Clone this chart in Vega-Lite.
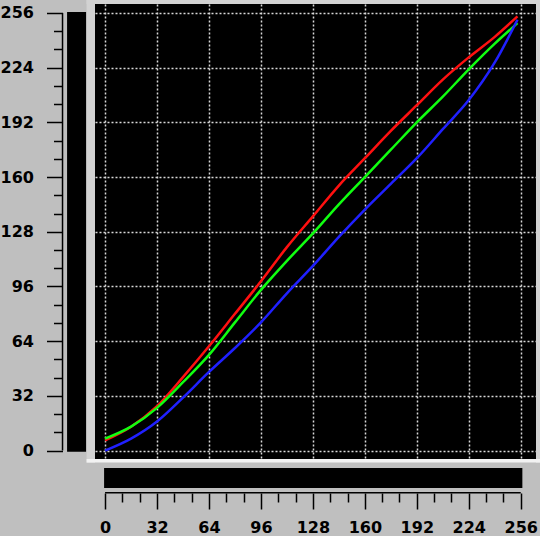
{
  "$schema": "https://vega.github.io/schema/vega-lite/v6.json",
  "width": 441,
  "height": 455,
  "autosize": {"type": "none"},
  "padding": {"left": 95, "top": 4, "right": 4, "bottom": 77},
  "background": "#bfbfbf",
  "config": {"view": {"fill": "black", "stroke": null}, "font": "DejaVu Sans"},
  "datasets": {
    "curves": [
      {"x": 0, "y": 6, "c": "red"}, {"x": 16, "y": 14, "c": "red"}, {"x": 32, "y": 26, "c": "red"}, {"x": 48, "y": 43, "c": "red"},
      {"x": 64, "y": 61, "c": "red"}, {"x": 80, "y": 80, "c": "red"}, {"x": 96, "y": 99, "c": "red"}, {"x": 112, "y": 119, "c": "red"},
      {"x": 128, "y": 137, "c": "red"}, {"x": 144, "y": 155, "c": "red"}, {"x": 160, "y": 171, "c": "red"}, {"x": 176, "y": 187, "c": "red"},
      {"x": 192, "y": 202, "c": "red"}, {"x": 208, "y": 217, "c": "red"}, {"x": 224, "y": 230, "c": "red"}, {"x": 240, "y": 242, "c": "red"},
      {"x": 254, "y": 254, "c": "red"},
      {"x": 0, "y": 7, "c": "green"}, {"x": 16, "y": 14, "c": "green"}, {"x": 32, "y": 25, "c": "green"}, {"x": 48, "y": 40, "c": "green"},
      {"x": 64, "y": 56, "c": "green"}, {"x": 80, "y": 75, "c": "green"}, {"x": 96, "y": 94, "c": "green"}, {"x": 112, "y": 111, "c": "green"},
      {"x": 128, "y": 127, "c": "green"}, {"x": 144, "y": 144, "c": "green"}, {"x": 160, "y": 160, "c": "green"}, {"x": 176, "y": 176, "c": "green"},
      {"x": 192, "y": 192, "c": "green"}, {"x": 208, "y": 207, "c": "green"}, {"x": 224, "y": 223, "c": "green"}, {"x": 240, "y": 238, "c": "green"},
      {"x": 254, "y": 250, "c": "green"},
      {"x": 0, "y": 0, "c": "blue"}, {"x": 16, "y": 7, "c": "blue"}, {"x": 32, "y": 17, "c": "blue"}, {"x": 48, "y": 31, "c": "blue"},
      {"x": 64, "y": 46, "c": "blue"}, {"x": 80, "y": 60, "c": "blue"}, {"x": 96, "y": 75, "c": "blue"}, {"x": 112, "y": 92, "c": "blue"},
      {"x": 128, "y": 108, "c": "blue"}, {"x": 144, "y": 125, "c": "blue"}, {"x": 160, "y": 141, "c": "blue"}, {"x": 176, "y": 156, "c": "blue"},
      {"x": 192, "y": 171, "c": "blue"}, {"x": 208, "y": 188, "c": "blue"}, {"x": 224, "y": 205, "c": "blue"}, {"x": 240, "y": 227, "c": "blue"},
      {"x": 254, "y": 252, "c": "blue"}
    ]
  },
  "layer": [
    {
      "data": {"values": [{}]},
      "mark": {"type": "rect", "clip": false, "color": "#d2d2d2"},
      "encoding": {
        "x": {"datum": -11.4, "type": "quantitative"},
        "x2": {"datum": -6.2},
        "y": {"datum": -7.2, "type": "quantitative"},
        "y2": {"datum": 263.5}
      }
    },
    {
      "data": {"values": [{}]},
      "mark": {"type": "rect", "clip": false, "color": "#d2d2d2"},
      "encoding": {
        "x": {"datum": -11.4, "type": "quantitative"},
        "x2": {"datum": 268},
        "y": {"datum": 261.2, "type": "quantitative"},
        "y2": {"datum": 263.5}
      }
    },
    {
      "data": {"values": [{}]},
      "mark": {"type": "rect", "clip": false, "color": "#d2d2d2"},
      "encoding": {
        "x": {"datum": 265.4, "type": "quantitative"},
        "x2": {"datum": 268},
        "y": {"datum": -7.2, "type": "quantitative"},
        "y2": {"datum": 263.5}
      }
    },
    {
      "data": {"values": [{}]},
      "mark": {"type": "rect", "clip": false, "color": "#f2f2f2"},
      "encoding": {
        "x": {"datum": -11.4, "type": "quantitative"},
        "x2": {"datum": 268},
        "y": {"datum": -4.9, "type": "quantitative"},
        "y2": {"datum": -7.0}
      }
    },
    {
      "data": {"values": [{}]},
      "mark": {"type": "rect", "clip": false, "color": "black"},
      "encoding": {
        "x": {"datum": -23.4, "type": "quantitative"},
        "x2": {"datum": -11.7},
        "y": {"datum": -0.7, "type": "quantitative"},
        "y2": {"datum": 256.5}
      }
    },
    {
      "data": {"values": [{}]},
      "mark": {"type": "rect", "clip": false, "color": "black"},
      "encoding": {
        "x": {"datum": -0.6, "type": "quantitative"},
        "x2": {"datum": 257},
        "y": {"datum": -10.1, "type": "quantitative"},
        "y2": {"datum": -21.8}
      }
    },
    {
      "data": {"values": [{}]},
      "mark": {"type": "rule", "clip": false, "color": "black", "strokeWidth": 1.5},
      "encoding": {
        "x": {"datum": -26.2, "type": "quantitative"},
        "y": {"datum": 0, "type": "quantitative"},
        "y2": {"datum": 256}
      }
    },
    {
      "data": {"values": [{}]},
      "mark": {"type": "rule", "clip": false, "color": "black", "strokeWidth": 1.5},
      "encoding": {
        "y": {"datum": -24.7, "type": "quantitative"},
        "x": {"datum": 0, "type": "quantitative"},
        "x2": {"datum": 256}
      }
    },
    {
      "data": {"name": "curves"},
      "mark": {"type": "line", "strokeWidth": 2.5, "interpolate": "monotone"},
      "encoding": {
        "x": {
          "field": "x", "type": "quantitative",
          "scale": {"domain": [-6.2, 265.4], "nice": false, "zero": false},
          "axis": {
            "title": null,
            "values": [0, 10.667, 21.333, 32, 42.667, 53.333, 64, 74.667, 85.333, 96, 106.667, 117.333, 128, 138.667, 149.333, 160, 170.667, 181.333, 192, 202.667, 213.333, 224, 234.667, 245.333, 256],
            "tickCount": 100,
            "domain": false, "offset": 34,
            "tickColor": "black", "tickWidth": 1.5,
            "tickSize": {"condition": {"test": "datum.value % 32 === 0", "value": 16}, "value": 9},
            "labelExpr": "datum.value % 32 === 0 ? datum.label : ''",
            "format": "d",
            "labelColor": "black", "labelFontSize": 16, "labelFontWeight": "bold", "labelPadding": 10,
            "labelFlush": false, "labelOverlap": false, "labelBound": false,
            "grid": true, "gridColor": "#d8d8d8", "gridDash": [2, 2], "gridWidth": 1.5,
            "gridOpacity": {"condition": {"test": "datum.value % 32 === 0", "value": 1}, "value": 0}
          }
        },
        "y": {
          "field": "y", "type": "quantitative",
          "scale": {"domain": [-4.9, 261.2], "nice": false, "zero": false},
          "axis": {
            "title": null,
            "values": [0, 10.667, 21.333, 32, 42.667, 53.333, 64, 74.667, 85.333, 96, 106.667, 117.333, 128, 138.667, 149.333, 160, 170.667, 181.333, 192, 202.667, 213.333, 224, 234.667, 245.333, 256],
            "tickCount": 100,
            "domain": false, "offset": 32.5,
            "tickColor": "black", "tickWidth": 1.5,
            "tickSize": {"condition": {"test": "datum.value % 32 === 0", "value": 16}, "value": 9},
            "labelExpr": "datum.value % 32 === 0 ? datum.label : ''",
            "format": "d",
            "labelColor": "black", "labelFontSize": 16, "labelFontWeight": "bold", "labelPadding": 13,
            "labelFlush": false, "labelOverlap": false, "labelBound": false,
            "grid": true, "gridColor": "#d8d8d8", "gridDash": [2, 2], "gridWidth": 1.5,
            "gridOpacity": {"condition": {"test": "datum.value % 32 === 0", "value": 1}, "value": 0}
          }
        },
        "color": {
          "field": "c", "type": "nominal",
          "scale": {"domain": ["red", "green", "blue"], "range": ["#ff1010", "#10ff10", "#2020ff"]},
          "legend": null
        }
      }
    }
  ]
}
